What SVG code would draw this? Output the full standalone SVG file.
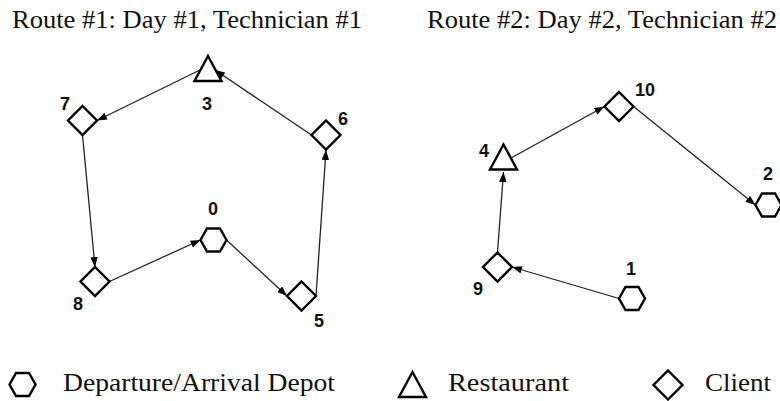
<svg xmlns="http://www.w3.org/2000/svg" width="780" height="401" viewBox="0 0 780 401">
<style>
.shape{fill:#fff;stroke:#000;stroke-width:2.4;stroke-linejoin:miter}
.edge{stroke:#222;stroke-width:1.3;fill:none;marker-end:url(#arr)}
.num{font-family:"Liberation Sans",Arial,sans-serif;font-weight:bold;font-size:18px;fill:#111;text-anchor:middle}
.ttl{font-family:"Liberation Serif","Times New Roman",serif;font-size:25px;fill:#111}
</style>
<defs>
<marker id="arr" markerUnits="userSpaceOnUse" markerWidth="11" markerHeight="8" refX="10" refY="3.75" orient="auto">
<path d="M0,0 L10,3.75 L0,7.5 z" fill="#000"/>
</marker>
<polygon id="dia" points="0,-14.5 14.5,0 0,14.5 -14.5,0"/>
<polygon id="hex" points="-13,0 -6.5,-11.5 6.5,-11.5 13,0 6.5,11.5 -6.5,11.5"/>
<polygon id="tri" points="0,-12.5 13.5,12.5 -13.5,12.5"/>
</defs>
<rect width="780" height="401" fill="#fff"/>
<text class="ttl" x="12" y="28" textLength="350" lengthAdjust="spacingAndGlyphs">Route #1: Day #1, Technician #1</text>
<text class="ttl" x="427" y="28" textLength="350" lengthAdjust="spacingAndGlyphs">Route #2: Day #2, Technician #2</text>
<g id="connectors">
<line class="edge" x1="226.5" y1="240" x2="287" y2="296"/>
<line class="edge" x1="316" y1="296" x2="326" y2="150"/>
<line class="edge" x1="311.5" y1="135" x2="215" y2="70"/>
<line class="edge" x1="200" y1="70" x2="97" y2="120.5"/>
<line class="edge" x1="82.5" y1="135" x2="95" y2="267"/>
<line class="edge" x1="109.5" y1="281.5" x2="200.5" y2="240"/>
<line class="edge" x1="619" y1="298.5" x2="512" y2="267"/>
<line class="edge" x1="497.5" y1="252" x2="503.5" y2="172"/>
<line class="edge" x1="511" y1="158" x2="604.5" y2="106.5"/>
<line class="edge" x1="633.5" y1="106.5" x2="755.5" y2="205"/>
</g>
<g id="node-0"><use href="#hex" class="shape" x="213.5" y="240"/><text class="num" x="213" y="215">0</text></g>
<g id="node-3"><use href="#tri" class="shape" x="208" y="68.5"/><text class="num" x="207" y="110">3</text></g>
<g id="node-5"><use href="#dia" class="shape" x="301.5" y="296"/><text class="num" x="319" y="327">5</text></g>
<g id="node-6"><use href="#dia" class="shape" x="326" y="135"/><text class="num" x="343" y="125">6</text></g>
<g id="node-7"><use href="#dia" class="shape" x="82.5" y="120.5"/><text class="num" x="65" y="110">7</text></g>
<g id="node-8"><use href="#dia" class="shape" x="95" y="281.5"/><text class="num" x="78" y="310">8</text></g>
<g id="node-1"><use href="#hex" class="shape" x="632" y="298.5"/><text class="num" x="631" y="275">1</text></g>
<g id="node-2"><use href="#hex" class="shape" x="768.5" y="205"/><text class="num" x="768" y="180">2</text></g>
<g id="node-4"><use href="#tri" class="shape" x="503.5" y="157"/><text class="num" x="484" y="157">4</text></g>
<g id="node-9"><use href="#dia" class="shape" x="497.5" y="267"/><text class="num" x="478" y="295">9</text></g>
<g id="node-10"><use href="#dia" class="shape" x="619" y="106.5"/><text class="num" x="645" y="96">10</text></g>
<g id="legend">
<use href="#hex" class="shape" x="22.5" y="384.5"/>
<text class="ttl" x="63" y="391" textLength="272" lengthAdjust="spacingAndGlyphs">Departure/Arrival Depot</text>
<use href="#tri" class="shape" x="412.5" y="384.5"/>
<text class="ttl" x="448" y="391" textLength="121" lengthAdjust="spacingAndGlyphs">Restaurant</text>
<use href="#dia" class="shape" x="668" y="385"/>
<text class="ttl" x="705" y="391" textLength="66" lengthAdjust="spacingAndGlyphs">Client</text>
</g>
</svg>
